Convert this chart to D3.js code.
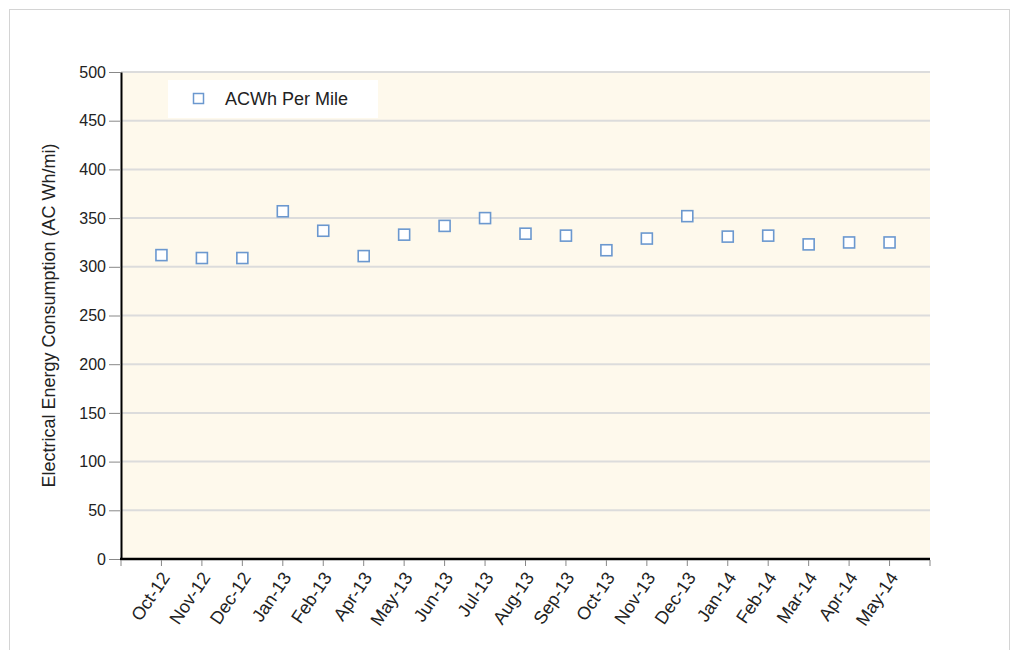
<!DOCTYPE html>
<html>
<head>
<meta charset="utf-8">
<script src="https://cdn.jsdelivr.net/npm/d3@7"></script>
<style>
  body { margin: 0; background: #fff; font-family: Arial, "Liberation Sans", sans-serif; }
</style>
</head>
<body>
<script>
// data
const months = ['Oct-12', 'Nov-12', 'Dec-12', 'Jan-13', 'Feb-13', 'Apr-13', 'May-13', 'Jun-13', 'Jul-13',
	'Aug-13', 'Sep-13', 'Oct-13', 'Nov-13', 'Dec-13', 'Jan-14', 'Feb-14', 'Mar-14', 'Apr-14', 'May-14'];
const whPerMile = [312, 309, 309, 357, 337, 311, 333, 342, 350, 334, 332, 317, 329, 352, 331, 332, 323, 325, 325];
const yTicks = [0, 50, 100, 150, 200, 250, 300, 350, 400, 450, 500];
const seriesName = 'ACWh Per Mile';
const yLabel = 'Electrical Energy Consumption (AC Wh/mi)';

const width = 1013, height = 650;
const margin = { top: 72, right: 83, bottom: 91, left: 121 };

const svg = d3.select('body').append('svg').attr('width', width).attr('height', height);

// outer frame
svg.append('rect').attr('x', 9.5).attr('y', 9.5).attr('width', 1000).attr('height', 660)
	.attr('fill', 'none').attr('stroke', '#d4d4d4');

const x = d3.scalePoint().domain(months).range([margin.left, width - margin.right]).padding(1);
const y = d3.scaleLinear().domain([0, 500]).range([height - margin.bottom, margin.top]);

// plot background
svg.append('rect')
	.attr('x', margin.left).attr('y', y(500))
	.attr('width', width - margin.right - margin.left).attr('height', y(0) - y(500))
	.attr('fill', '#fef9ec');

// gridlines
svg.append('g').selectAll('line').data(yTicks.filter((d) => d > 0)).join('line')
	.attr('x1', margin.left).attr('x2', width - margin.right)
	.attr('y1', (d) => y(d)).attr('y2', (d) => y(d))
	.attr('stroke', '#dcdcdc').attr('stroke-width', 2);

// y axis
const yAxis = svg.append('g').attr('transform', `translate(${margin.left},0)`)
	.call(d3.axisLeft(y).tickValues(yTicks).tickSize(12).tickSizeOuter(0));
yAxis.select('.domain').attr('stroke', '#000').attr('stroke-width', 2);
yAxis.selectAll('.tick line').attr('stroke', '#888');
yAxis.selectAll('.tick text').attr('font-size', 16).attr('font-family', 'Arial, "Liberation Sans", sans-serif')
	.attr('fill', '#222').attr('x', -15);

// x axis: ticks on band edges
const step = x.step();
const edges = d3.range(months.length + 2).map((i) => margin.left + i * step);
const xg = svg.append('g');
xg.append('line')
	.attr('x1', margin.left - 1).attr('x2', width - margin.right)
	.attr('y1', y(0)).attr('y2', y(0))
	.attr('stroke', '#000').attr('stroke-width', 2.5);
xg.selectAll('line.tick').data(edges).join('line').attr('class', 'tick')
	.attr('x1', (d) => d).attr('x2', (d) => d)
	.attr('y1', y(0) + 1).attr('y2', y(0) + 7)
	.attr('stroke', '#888');
xg.selectAll('text').data(months).join('text')
	.attr('transform', (d) => `translate(${x(d) + 4},${y(0) + 15}) rotate(-56)`)
	.attr('text-anchor', 'end')
	.attr('dy', '0.35em')
	.attr('font-size', 18)
	.attr('fill', '#222')
	.text((d) => d);

// y label
svg.append('text')
	.attr('transform', `translate(55,${(y(0) + y(500)) / 2}) rotate(-90)`)
	.attr('text-anchor', 'middle')
	.attr('font-size', 18)
	.attr('fill', '#222')
	.text(yLabel);

// points
svg.append('g').selectAll('rect').data(months).join('rect')
	.attr('x', (d) => x(d) - 5.5).attr('y', (d, i) => y(whPerMile[i]) - 5.5)
	.attr('width', 11).attr('height', 11)
	.attr('fill', '#fff').attr('stroke', '#6b98cf').attr('stroke-width', 1.6);

// legend
const legend = svg.append('g');
legend.append('rect').attr('x', 168).attr('y', 80).attr('width', 210).attr('height', 38).attr('fill', '#fff');
legend.append('rect').attr('x', 193.5).attr('y', 93.5).attr('width', 10).attr('height', 10)
	.attr('fill', '#fff').attr('stroke', '#6b98cf').attr('stroke-width', 1.5);
legend.append('text').attr('x', 225).attr('y', 99).attr('dy', '0.35em')
	.attr('font-size', 18).attr('fill', '#222').text(seriesName);
</script>
</body>
</html>
